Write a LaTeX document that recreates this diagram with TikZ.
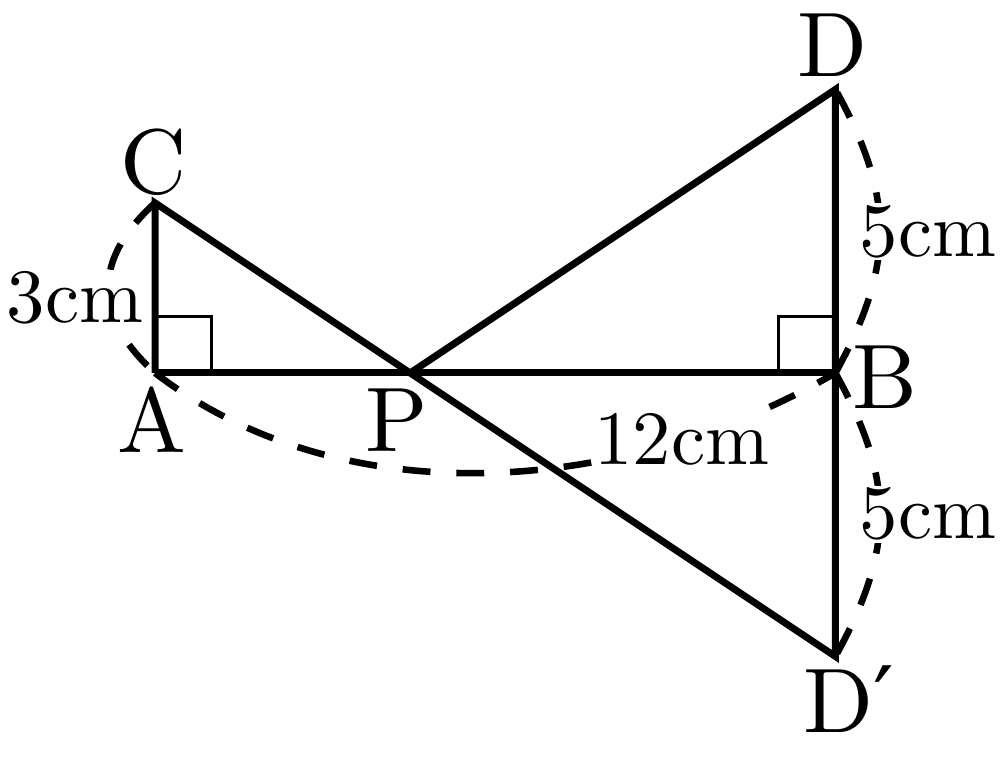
\documentclass[tikz,border=0pt]{standalone}
\usepackage{fontspec}
\setmainfont{lmroman10-regular.otf}
\newfontfamily\primefont{DejaVu Serif}
\usepackage{tikz}
\usetikzlibrary{calc}
\usetikzlibrary{positioning}
\tikzset{
ptname/.style={inner sep=0cm,anchor=base,font=\fontsize{46}{50}\selectfont},
lenlabel/.style={fill=white,inner sep=1pt,font=\fontsize{38.5}{42}\selectfont},
line/.style={black,line width=3.5pt,line join=miter},
dasharc/.style={black,line width=3.3pt,dash pattern=on 14pt off 13pt}
}
\begin{document}
\begin{tikzpicture}
    \newcommand{\marksize}{1cm}
    \tikzset{
      rightmark/.style={black, line width=1.7pt},
    }
    \useasboundingbox (-2.734,-6.861) rectangle (14.903,6.578);
    {
      \coordinate (A) at (0.0, 0.0);
      \coordinate (B) at (12.0, 0.0);
      \coordinate (C) at (0.0, 3.0);
      \coordinate (D) at (12.0, 5.0);
      \coordinate (Dp) at (12.0, -5.0);
      \coordinate (P) at (4.5, 0.0);
      %
      \draw[dasharc] (C) .. controls +(-1.1,-1.0) and +(-1.1,1.0) .. (A);
      \draw[dasharc] (A) .. controls +(3.4,-2.6) and +(-3.6,-2.1) .. (B);
      \draw[dasharc] (B) .. controls +(1.05,1.9) and +(1.05,-1.9) .. (D);
      \draw[dasharc] (B) .. controls +(1.05,-1.9) and +(1.05,1.9) .. (Dp);
      %
      \node[lenlabel] (len-ac) at (-1.41, 1.32) {3cm};
      \node[lenlabel] (len-ab) at (9.29, -1.18) {12cm};
      \node[lenlabel] (len-bd) at (13.63, 2.49) {5cm};
      \node[lenlabel] (len-bdp) at (13.63, -2.49) {5cm};
      %
      \draw[rightmark] ($(A)+(0,\marksize)$) -- ++(\marksize,0) -- ++(0,-\marksize);
      \draw[rightmark] ($(B)+(-\marksize,0)$) -- ++(0,\marksize) -- ++(\marksize,0);
      %
      \draw[line] (A) -- (C) -- (Dp) -- (D) -- (P);
      \draw[line] (A) -- (B);
      %
      \node[ptname] (name-c) at ($(C)+(-0.03,0.17)$) {C};
      \node[ptname] (name-a) at ($(A)+(-0.06,-1.41)$) {A};
      \node[ptname] (name-p) at ($(P)+(-0.23,-1.39)$) {P};
      \node[ptname] (name-b) at ($(B)+(0.87,-0.62)$) {B};
      \node[ptname] (name-d) at ($(D)+(-0.05,0.22)$) {D};
      \node[ptname, anchor=base west] (name-dp) at ($(Dp)+(-0.57,-1.34)$) {D{\primefont ′}};
    }
\end{tikzpicture}
\end{document}
